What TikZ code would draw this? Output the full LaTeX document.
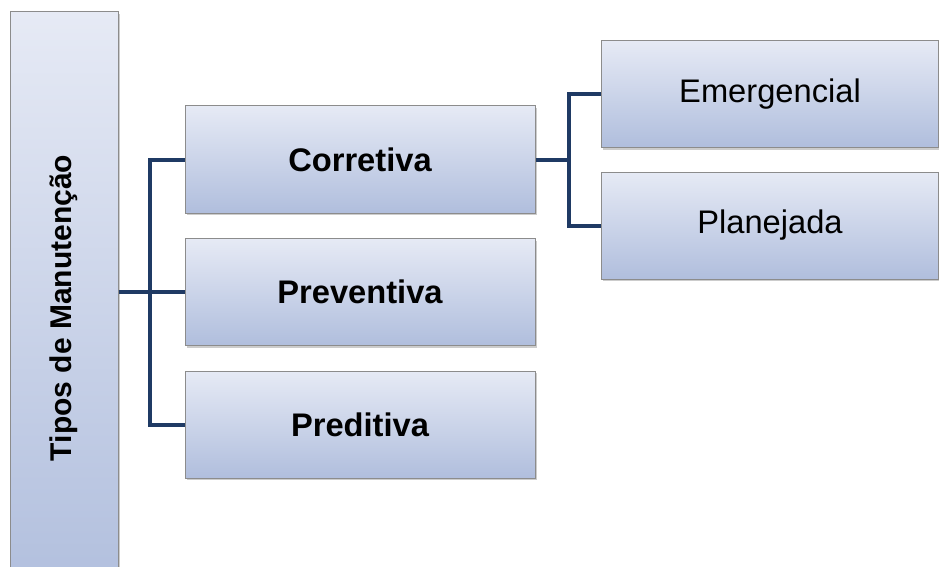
\documentclass[tikz,border=0pt]{standalone}
\usepackage{fontspec}
\setmainfont{Liberation Sans}
\usetikzlibrary{shadows}

\definecolor{boxtop}{RGB}{230,234,245}
\definecolor{boxbot}{RGB}{176,190,221}
\definecolor{boxline}{RGB}{140,140,140}
\definecolor{linkcol}{RGB}{31,58,100}

\tikzset{every picture/.style={line width=0.75pt}}
\tikzset{
  tipobox/.style={draw=boxline, line width=0.75pt, top color=boxtop, bottom color=boxbot,
    drop shadow={shadow xshift=1.2pt, shadow yshift=-1.8pt, opacity=0.4},
    inner sep=0pt, align=center},
  nivelum/.style={tipobox, minimum width=262.5pt, minimum height=80.25pt,
    font=\fontsize{24.5}{28}\selectfont\bfseries},
  niveldois/.style={tipobox, minimum width=253pt, minimum height=80.25pt,
    font=\fontsize{24.5}{28}\selectfont},
  link/.style={draw=linkcol, line width=3pt}
}

\begin{document}
\begin{tikzpicture}[x=0.75pt,y=0.75pt,yscale=-1,xscale=1]
\useasboundingbox (0,0) rectangle (939,567);
\clip (0,0) rectangle (939,567);

%Root box (runs past the bottom edge)
\node [tipobox, rotate=90, minimum width=444pt, minimum height=81pt,
  font=\fontsize{22.5}{26}\selectfont\bfseries] (root) at (64,308) {Tipos de Manutenção};

%First level
\node [nivelum] (cor) at (360,159.5) {Corretiva};
\node [nivelum] (pre) at (360,292) {Preventiva};
\node [nivelum] (pred) at (360,424.5) {Preditiva};

%Second level
\node [niveldois] (eme) at (770,94) {Emergencial};
\node [niveldois] (pla) at (770,225.5) {Planejada};

%Connectors
\draw [link] (pre.west -| root.south) -- (pre.west);
\draw [link] (cor.west) -- ++(-35,0) |- (pred.west);
\draw [link] (cor.east) -- ++(35,0);
\draw [link] (eme.west) -- ++(-32,0) |- (pla.west);

\end{tikzpicture}
\end{document}
